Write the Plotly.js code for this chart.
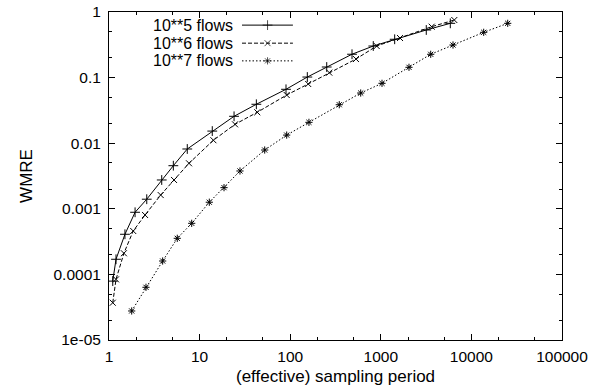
<!DOCTYPE html>
<html><head><meta charset="utf-8">
<script src="https://cdn.plot.ly/plotly-3.0.1.min.js"></script>
<style>html,body{margin:0;padding:0;background:#fff}#c{width:597px;height:389px}</style>
</head><body><div id="c"></div>
<script>
// sampling period (x) and WMRE (y) per series
const s1Name = "10**5 flows";
const s1x = [1.10, 1.195, 1.50, 1.94, 2.61, 3.82, 5.13, 7.31, 13.8, 24.0, 42.3, 89.9, 154.5, 253, 481, 826, 1423, 3177, 5850];
const s1y = [7.9e-5, 1.70e-4, 4.09e-4, 8.85e-4, 1.40e-3, 2.75e-3, 4.54e-3, 8.16e-3, 0.0153, 0.0257, 0.0392, 0.0663, 0.102, 0.145, 0.227, 0.303, 0.384, 0.532, 0.672];
const s2Name = "10**6 flows";
const s2x = [1.10, 1.195, 1.46, 1.85, 2.50, 3.72, 5.22, 7.64, 14.2, 24.6, 43.3, 91.5, 158, 270, 532, 901, 1630, 3647, 6475];
const s2y = [3.7e-5, 8.4e-5, 2.10e-4, 4.59e-4, 8.05e-4, 1.62e-3, 2.75e-3, 4.94e-3, 0.0111, 0.0194, 0.0296, 0.0543, 0.0799, 0.119, 0.192, 0.303, 0.401, 0.597, 0.755];
const s3Name = "10**7 flows";
const s3x = [1.78, 2.56, 3.91, 5.67, 8.18, 12.8, 18.6, 27.9, 52.3, 91.5, 161, 348, 600, 1031, 2047, 3555, 6265, 13670, 25170];
const s3y = [2.77e-5, 6.36e-5, 1.60e-4, 3.55e-4, 6.01e-4, 1.26e-3, 2.10e-3, 3.77e-3, 7.87e-3, 0.0133, 0.0208, 0.0386, 0.0582, 0.0818, 0.1435, 0.2266, 0.314, 0.490, 0.672];

const xTickVals = [1, 10, 100, 1000, 10000, 100000];
const xTickText = ["1", "10", "100", "1000", "10000", "100000"];
const yTickVals = [1e-5, 1e-4, 1e-3, 1e-2, 1e-1, 1];
const yTickText = ["1e-05", "0.0001", "0.001", "0.01", "0.1", "1"];
const xTitle = "(effective) sampling period";
const yTitle = "WMRE";

const FONT = "Liberation Sans, Arial, Helvetica, sans-serif";
const styles = [
  {name: s1Name, x: s1x, y: s1y, dash: "solid", sym: "cross-thin-open", size: 7},
  {name: s2Name, x: s2x, y: s2y, dash: "4px,2px", sym: "x-thin-open", size: 6},
  {name: s3Name, x: s3x, y: s3y, dash: "1.5px,2px", sym: "asterisk-open", size: 6}
];

const traces = [];
styles.forEach(s => {
  traces.push({
    x: s.x, y: s.y, type: "scatter", mode: "lines+markers", name: s.name,
    line: {color: "#000", width: 1, dash: s.dash},
    marker: {symbol: s.sym, size: s.size, color: "#000", line: {color: "#000", width: 1}},
    showlegend: false, cliponaxis: true
  });
});

// custom legend (text left, sample right) on a hidden overlay axis
const legY = [0.960, 0.905, 0.851];
const annotations = [];
styles.forEach((s, i) => {
  traces.push({
    x: [0.2936, 0.35, 0.406], y: [legY[i], legY[i], legY[i]],
    xaxis: "x2", yaxis: "y2", type: "scatter", mode: "lines+markers",
    line: {color: "#000", width: 1, dash: s.dash},
    marker: {symbol: s.sym, size: [0, s.size, 0], color: "#000", line: {color: "#000", width: 1}},
    showlegend: false, hoverinfo: "skip"
  });
  annotations.push({
    xref: "paper", yref: "paper", x: 0.279, y: legY[i], xanchor: "right", yanchor: "middle",
    text: s.name, showarrow: false, font: {family: FONT, size: 16, color: "#000"}
  });
});
annotations.push({
  xref: "paper", yref: "paper", x: 0.5, y: -0.1098, xanchor: "center", yanchor: "middle",
  text: xTitle, showarrow: false, font: {family: FONT, size: 17, color: "#000"}
});

const axisCommon = {
  type: "log", showgrid: false, zeroline: false,
  showline: true, linecolor: "#000", linewidth: 1, mirror: "allticks",
  ticks: "inside", ticklen: 6, tickwidth: 1, tickcolor: "#000",
  tickfont: {family: FONT, size: 15.5, color: "#000"},
  minor: {ticks: "inside", ticklen: 3, tickwidth: 1, tickcolor: "#000", dtick: "D2", showgrid: false}
};

const layout = {
  width: 597, height: 389,
  margin: {l: 109, r: 35, t: 12, b: 49},
  paper_bgcolor: "#fff", plot_bgcolor: "#fff",
  showlegend: false,
  font: {family: FONT, size: 17, color: "#000"},
  xaxis: Object.assign({}, axisCommon, {
    range: [0, 5], tickvals: xTickVals, ticktext: xTickText, tickangle: 0,
    ticklabelstandoff: 2
  }),
  yaxis: Object.assign({}, axisCommon, {
    range: [-5, 0], tickvals: yTickVals, ticktext: yTickText,
    ticklabelstandoff: 4,
    title: {text: yTitle, font: {family: FONT, size: 17, color: "#000"}, standoff: 16}
  }),
  xaxis2: {overlaying: "x", range: [0, 1], visible: false, fixedrange: true},
  yaxis2: {overlaying: "y", range: [0, 1], visible: false, fixedrange: true},
  annotations: annotations
};

Plotly.newPlot("c", traces, layout, {displayModeBar: false, staticPlot: true});
</script>
</body></html>
